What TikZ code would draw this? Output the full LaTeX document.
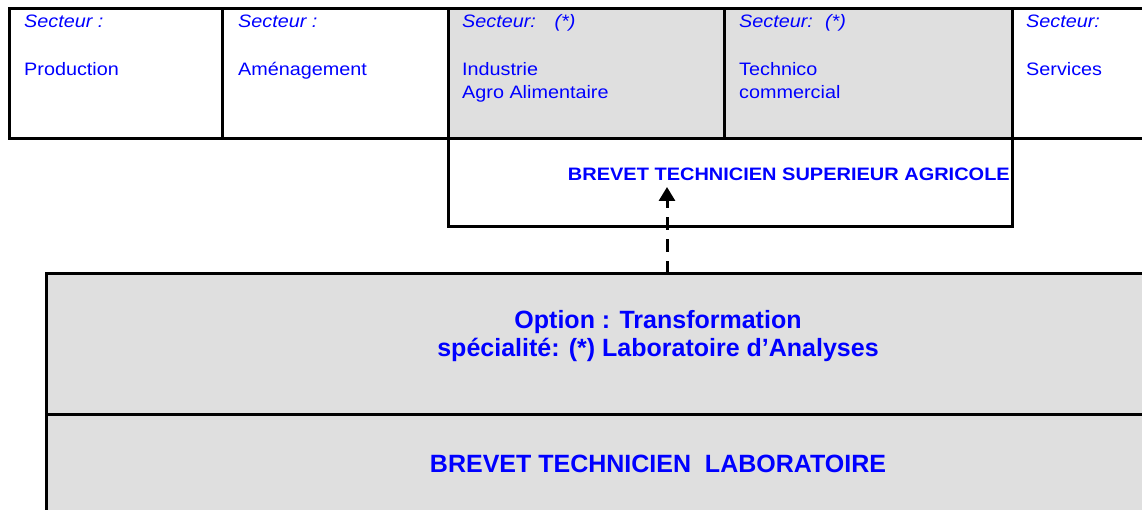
\documentclass[tikz,border=0pt]{standalone}
\usepackage{fontspec}
\setmainfont{Liberation Sans}
\usepackage{graphicx}
\usetikzlibrary{arrows.meta}
\definecolor{txtblue}{RGB}{0,0,255}
\definecolor{cellgrey}{RGB}{223,223,223}
\newcommand{\hwide}[1]{\scalebox{1.1}[1]{#1}}
\begin{document}
\begin{tikzpicture}[x=1pt,y=-1pt,
  border/.style={line width=3pt, draw=black},
  lbl/.style={anchor=base west, inner sep=0pt, text=txtblue, font=\fontsize{18}{22}\selectfont},
  sect/.style={lbl, font=\fontsize{18}{22}\selectfont\itshape},
  bigtitle/.style={anchor=base, inner sep=0pt, text=txtblue, font=\fontsize{25}{30}\selectfont\bfseries},
  smalltitle/.style={anchor=base east, inner sep=0pt, text=txtblue, font=\fontsize{18}{22}\selectfont\bfseries},
  panel/.style={anchor=north west, inner sep=0pt, draw=none}
]
\useasboundingbox (0,0) rectangle (1142,510);
% panels
\node[panel, fill=cellgrey, minimum width=564pt, minimum height=130pt] (greycells) at (448,9) {};
\node[panel, minimum width=564pt, minimum height=88pt] (btsabox) at (448,139) {};
\node[panel, fill=cellgrey, minimum width=1096pt, minimum height=236pt] (optionbox) at (46,274) {};
% top table borders
\draw[border] (1142,9) -- (9.5,9) -- (9.5,139) -- (1142,139);
\draw[border] (222,9) -- (222,139);
\draw[border] (724,9) -- (724,139);
\draw[border] (448,9) -- (448,227) -- (1012,227) -- (1012,9);
% big box borders
\draw[border] (1142,274) -- (46,274) -- (46,512);
\draw[border] (46,414) -- (1142,414);
% top cell texts
\node[sect] (s1) at (24,28) {\hwide{Secteur :}};
\node[lbl] (n1) at (24,76) {\hwide{Production}};
\node[sect] (s2) at (238,28) {\hwide{Secteur :}};
\node[lbl] (n2) at (238,76) {\hwide{Aménagement}};
\node[sect] (s3) at (462,28) {\hwide{Secteur:\hspace{17pt}(*)}};
\node[lbl] (n3a) at (462,76) {\hwide{Industrie}};
\node[lbl] (n3b) at (462,99) {\hwide{Agro Alimentaire}};
\node[sect] (s4) at (739,28) {\hwide{Secteur:\hspace{11pt}(*)}};
\node[lbl] (n4a) at (739,76) {\hwide{Technico}};
\node[lbl] (n4b) at (739,99) {\hwide{commercial}};
\node[sect] (s5) at (1026,28) {\hwide{Secteur:}};
\node[lbl] (n5) at (1026,76) {\hwide{Services}};
% titles
\node[smalltitle] (btsa) at (1010,181) {\scalebox{1.11}[1]{BREVET TECHNICIEN SUPERIEUR AGRICOLE}};
\node[bigtitle] (opt1) at (658,328) {Option : Transformation};
\node[bigtitle] (opt2) at (658,356) {spécialité: (*) Laboratoire d’Analyses};
\node[bigtitle] (btl) at (658,472) {BREVET TECHNICIEN\ \ LABORATOIRE};
% arrow
\coordinate (arrowtip) at (667,187);
\draw[line width=3pt, dash pattern=on 13pt off 9pt, -{Triangle[width=16pt,length=14pt]}]
  (optionbox.north -| arrowtip) -- (arrowtip);
\end{tikzpicture}
\end{document}
